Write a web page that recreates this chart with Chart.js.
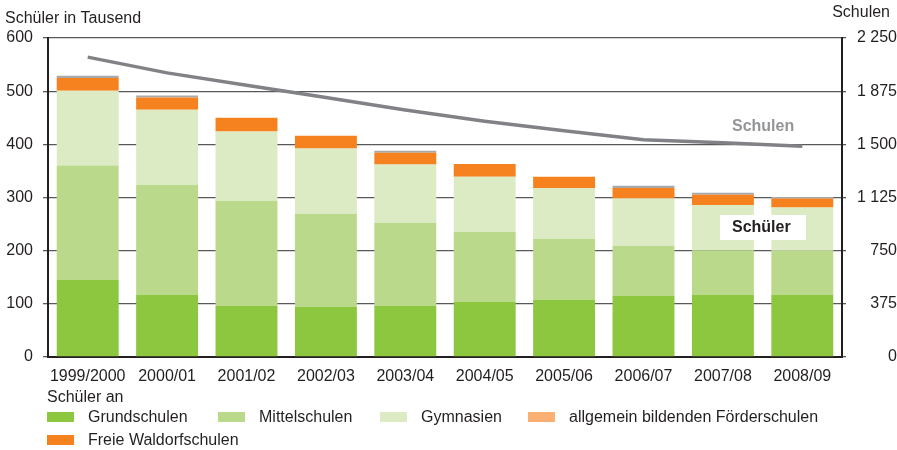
<!DOCTYPE html>
<html>
<head>
<meta charset="utf-8">
<script src="https://cdn.jsdelivr.net/npm/chart.js@4/dist/chart.umd.min.js"></script>
<style>
html,body{margin:0;padding:0;background:#fff;}
#c{display:block;}
</style>
</head>
<body>
<canvas id="c" width="897" height="450"></canvas>
<script>
const categories = ['1999/2000','2000/01','2001/02','2002/03','2003/04','2004/05','2005/06','2006/07','2007/08','2008/09'];
const grundschulen = [145,117,96,94,96,104,107,115,117,117];
const mittelschulen = [215,207,198,175,156,131,115,94,84,83];
const gymnasien = [141,141,130,123,110,104,96,89,85,81];
const foerderschulen = [24,23,26,24,22,24,21,20,19,17];
const waldorfschulen = [4,4,0,0,4,0,0,4,4,3];
const schulen = [2115,2004,1916,1830,1742,1663,1596,1533,1511,1486];
const leftTicks = [0,100,200,300,400,500,600];
const rightTicks = [0,375,750,1125,1500,1875,2250];

const FONT = '"Liberation Sans", Arial, sans-serif';
const TXT = '#231f20';
const GRID = '#58595b';

const legendColors = ['#8dc63f','#bad98a','#dcebc4','#fbb073','#f5821f'];

const overlay = {
  id: 'overlay',
  afterDraw(chart) {
    const ctx = chart.ctx;
    ctx.save();
    ctx.fillStyle = TXT;
    ctx.textBaseline = 'middle';
    ctx.font = '16px ' + FONT;
    ctx.textAlign = 'left';
    ctx.fillText('Schüler in Tausend', 5, 19);
    ctx.textAlign = 'right';
    ctx.fillText('Schulen', 890, 13);
    // series labels
    ctx.font = 'bold 16px ' + FONT;
    ctx.textAlign = 'left';
    ctx.fillStyle = '#939598';
    ctx.fillText('Schulen', 732, 127);
    ctx.fillStyle = '#ffffff';
    ctx.fillRect(720, 215, 86, 25);
    ctx.fillStyle = TXT;
    ctx.fillText('Schüler', 732, 228);
    // legend
    ctx.font = '16px ' + FONT;
    ctx.fillText('Schüler an', 47, 398);
    const bars = chart.data.datasets.filter(d => d.type !== 'line');
    const pos = [[47,417],[218,417],[380,417],[528,417],[47,440]];
    bars.forEach((d, i) => {
      const [x, y] = pos[i];
      ctx.fillStyle = legendColors[i];
      ctx.fillRect(x, y - 5, 27, 10);
      ctx.fillStyle = TXT;
      ctx.fillText(d.label, x + 41, y + 1);
    });
    ctx.restore();
  }
};

const fmt = v => String(v).replace(/\B(?=(\d{3})+(?!\d))/g, ' ');

new Chart(document.getElementById('c'), {
  type: 'bar',
  data: {
    labels: categories,
    datasets: [
      { type: 'line', label: 'Schulen', data: schulen, yAxisID: 'y1', borderColor: '#808285', borderWidth: 3.5, pointRadius: 0, tension: 0, order: 0, fill: false },
      { label: 'Grundschulen', data: grundschulen, backgroundColor: '#8dc63f', yAxisID: 'y', order: 1 },
      { label: 'Mittelschulen', data: mittelschulen, backgroundColor: '#bad98a', yAxisID: 'y', order: 1 },
      { label: 'Gymnasien', data: gymnasien, backgroundColor: '#dcebc4', yAxisID: 'y', order: 1 },
      { label: 'allgemein bildenden Förderschulen', data: foerderschulen, backgroundColor: '#f5821f', yAxisID: 'y', order: 1 },
      { label: 'Freie Waldorfschulen', data: waldorfschulen, backgroundColor: '#a7a9ac', yAxisID: 'y', order: 1 }
    ]
  },
  options: {
    responsive: false,
    devicePixelRatio: 1,
    animation: false,
    layout: { padding: { top: 38, left: 0, right: 0, bottom: 0 } },
    plugins: { legend: { display: false }, tooltip: { enabled: false } },
    datasets: { bar: { categoryPercentage: 1, barPercentage: 0.78 } },
    scales: {
      x: {
        stacked: true,
        grid: { display: false, drawTicks: false },
        border: { display: true, color: TXT, width: 2 },
        ticks: { color: TXT, font: { family: FONT, size: 16 }, padding: 10, maxRotation: 0, autoSkip: false },
        afterFit(s) { s.height = 93; }
      },
      y: {
        stacked: true,
        position: 'left',
        min: 0, max: 600,
        afterBuildTicks(s) { s.ticks = leftTicks.map(v => ({ value: v })); },
        grid: { color: GRID, lineWidth: 1.3, tickLength: 5, drawOnChartArea: true },
        border: { display: true, color: TXT, width: 2 },
        ticks: { color: TXT, font: { family: FONT, size: 16 }, padding: 10 },
        afterFit(s) { s.width = 48; }
      },
      y1: {
        position: 'right',
        min: 0, max: 2250,
        afterBuildTicks(s) { s.ticks = rightTicks.map(v => ({ value: v })); },
        grid: { color: GRID, lineWidth: 1.3, tickLength: 4, drawOnChartArea: false },
        border: { display: true, color: TXT, width: 2 },
        ticks: { color: TXT, font: { family: FONT, size: 16 }, padding: 4, crossAlign: 'far', callback: v => fmt(v) },
        afterFit(s) { s.width = 55; }
      }
    }
  },
  plugins: [overlay]
});
</script>
</body>
</html>
